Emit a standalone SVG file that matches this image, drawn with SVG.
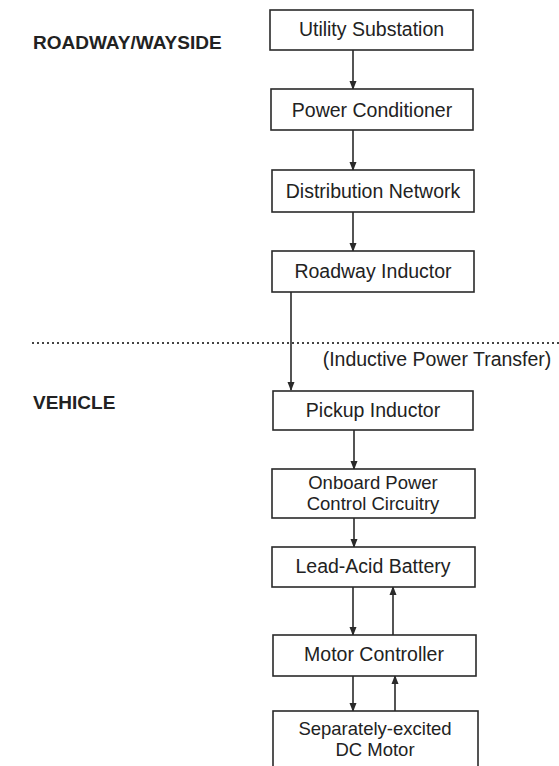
<svg xmlns="http://www.w3.org/2000/svg" width="559" height="766" viewBox="0 0 559 766">
<style>
.box{fill:#fff;stroke:#2a2a2a;stroke-width:1.6}
.t{font-family:"Liberation Sans",Arial,sans-serif;font-size:19.5px;fill:#222;text-anchor:middle}
.t2{font-size:18.5px}
.lab{font-family:"Liberation Sans",Arial,sans-serif;font-size:19px;font-weight:bold;fill:#222}
.c{stroke:#2a2a2a;stroke-width:1.6;fill:none;marker-end:url(#ah)}
</style>
<defs>
<marker id="ah" markerWidth="9" markerHeight="10" refX="8" refY="4" orient="auto" markerUnits="userSpaceOnUse">
<path d="M0,0.5 L9,4 L0,7.5 Z" fill="#2a2a2a"/>
</marker>
</defs>
<rect width="559" height="766" fill="#fff"/>
<text class="lab" x="33" y="49">ROADWAY/WAYSIDE</text>
<text class="lab" x="33" y="409">VEHICLE</text>
<line x1="32" y1="343" x2="559" y2="343" stroke="#444" stroke-width="2" stroke-dasharray="2 3"/>
<text class="t" x="437" y="366">(Inductive Power Transfer)</text>
<g id="connectors">
<line class="c" x1="353" y1="50" x2="353" y2="89"/>
<line class="c" x1="353" y1="130" x2="353" y2="170"/>
<line class="c" x1="353" y1="212" x2="353" y2="251"/>
<line class="c" x1="291" y1="292" x2="291" y2="390"/>
<line class="c" x1="354" y1="430" x2="354" y2="469"/>
<line class="c" x1="354" y1="518" x2="354" y2="547"/>
<line class="c" x1="353" y1="587" x2="353" y2="635"/>
<line class="c" x1="393" y1="635" x2="393" y2="587"/>
<line class="c" x1="353" y1="676" x2="353" y2="711"/>
<line class="c" x1="395" y1="711" x2="395" y2="676"/>
</g>
<g id="n1"><rect class="box" x="270" y="10" width="203" height="40"/><text class="t" x="371.5" y="36">Utility Substation</text></g>
<g id="n2"><rect class="box" x="271" y="89" width="202" height="41"/><text class="t" x="372" y="117">Power Conditioner</text></g>
<g id="n3"><rect class="box" x="272" y="170" width="202" height="42"/><text class="t" x="373" y="198">Distribution Network</text></g>
<g id="n4"><rect class="box" x="272" y="251" width="202" height="41"/><text class="t" x="373" y="278">Roadway Inductor</text></g>
<g id="n5"><rect class="box" x="273" y="391" width="200" height="39"/><text class="t" x="373" y="417">Pickup Inductor</text></g>
<g id="n6"><rect class="box" x="272" y="469" width="203" height="49"/><text class="t t2" x="373" y="489">Onboard Power</text><text class="t t2" x="373" y="510">Control Circuitry</text></g>
<g id="n7"><rect class="box" x="272" y="547" width="203" height="40"/><text class="t" x="373" y="573">Lead-Acid Battery</text></g>
<g id="n8"><rect class="box" x="273" y="635" width="203" height="41"/><text class="t" x="374" y="661">Motor Controller</text></g>
<g id="n9"><rect class="box" x="273" y="711" width="205" height="70"/><text class="t t2" x="375" y="735">Separately-excited</text><text class="t t2" x="375" y="756">DC Motor</text></g>
</svg>
